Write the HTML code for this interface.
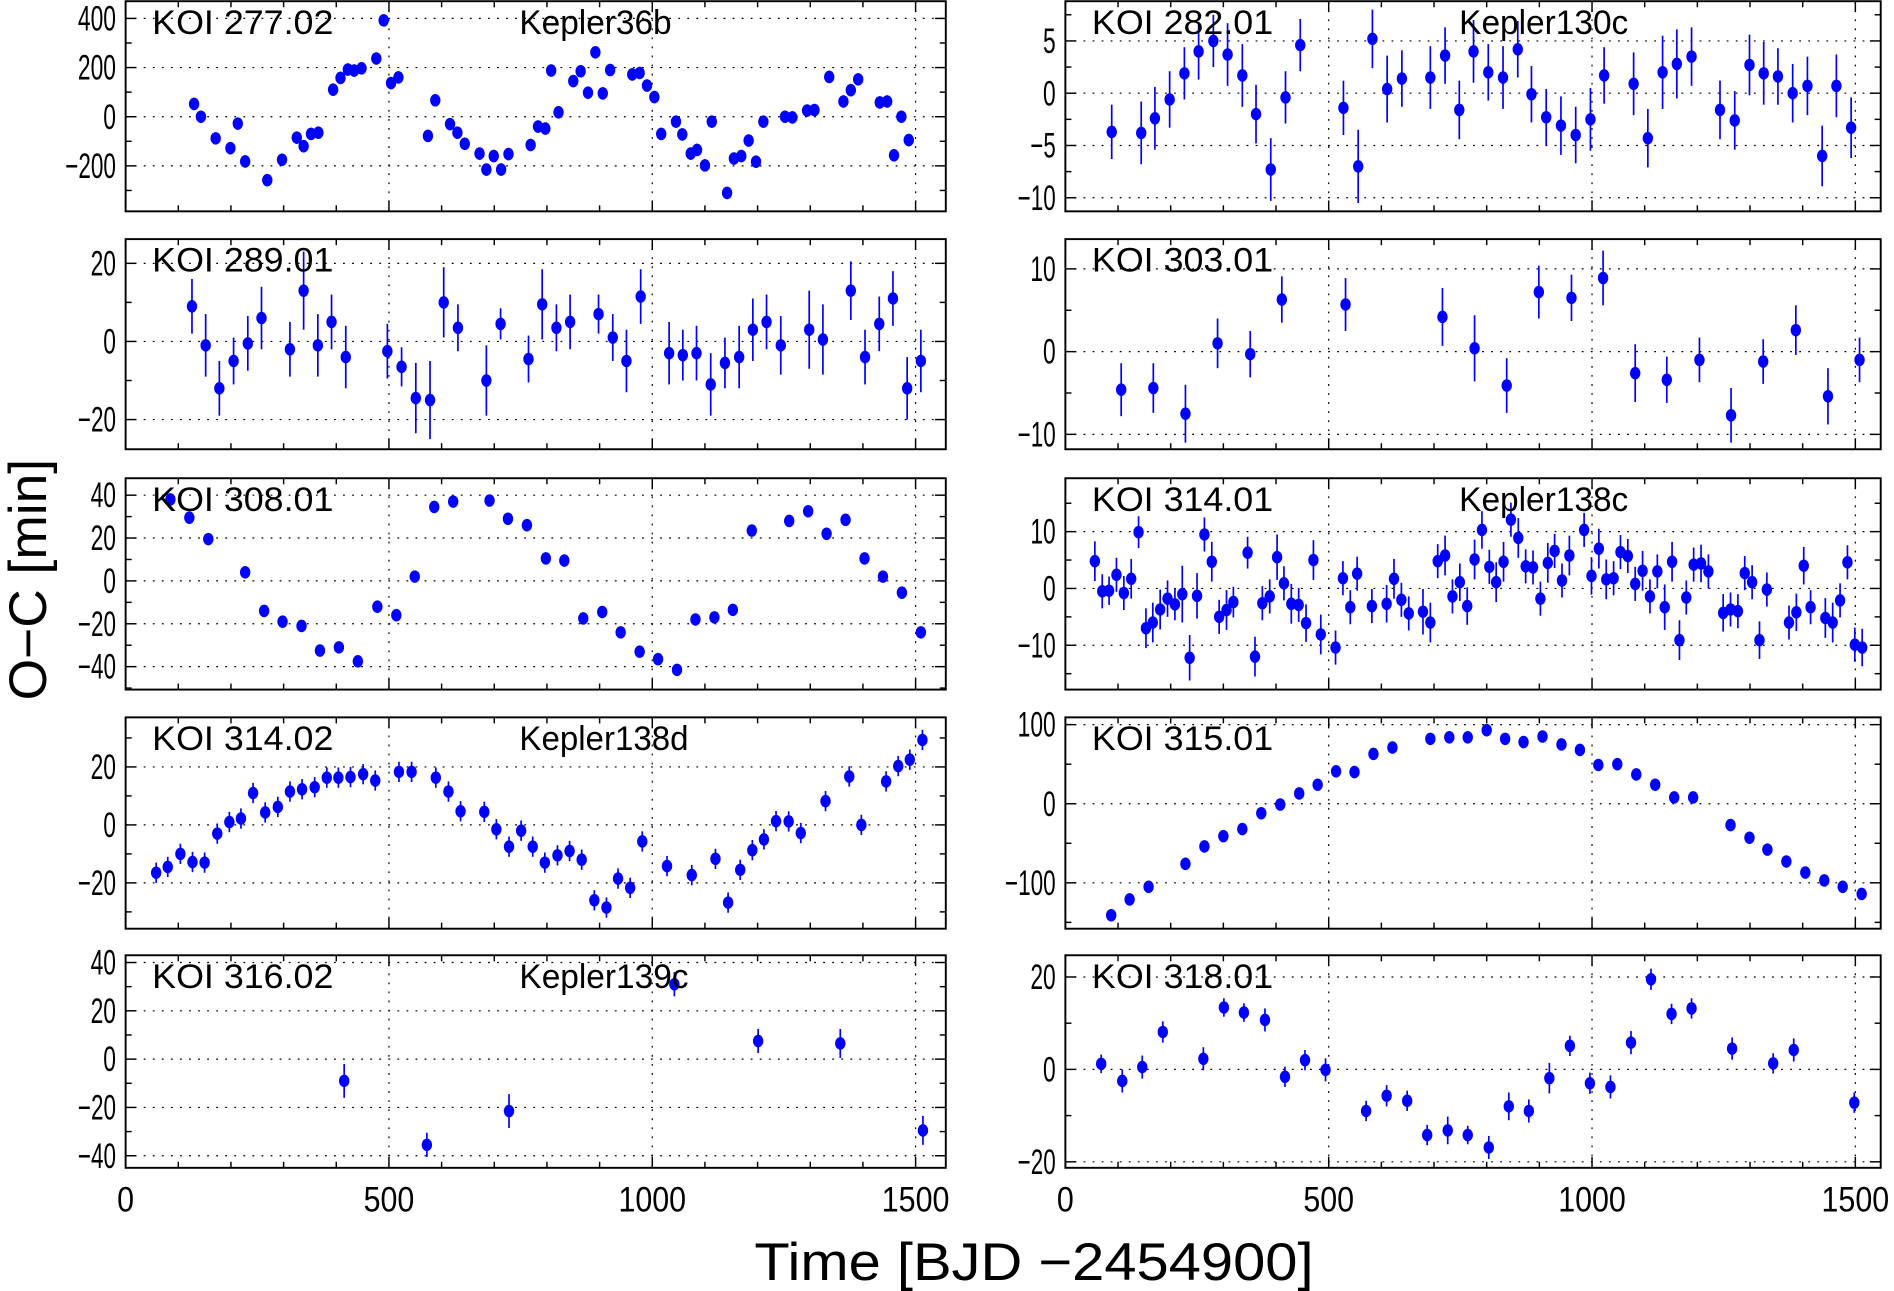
<!DOCTYPE html>
<html><head><meta charset="utf-8"><title>KOI O-C panels</title>
<style>html,body{margin:0;padding:0;background:#fff}svg{display:block}</style></head>
<body>
<svg id="chart" xmlns="http://www.w3.org/2000/svg" width="1894" height="1291" viewBox="0 0 1568 1069" preserveAspectRatio="none" font-family="Liberation Sans, sans-serif">
<text transform="translate(38,480) rotate(-90)" text-anchor="middle" font-size="44" textLength="200" lengthAdjust="spacingAndGlyphs">O−C [min]</text>
<text x="856" y="1060" text-anchor="middle" font-size="44" textLength="463" lengthAdjust="spacingAndGlyphs">Time [BJD −2454900]</text>
</svg>
<script>
const xTicks=[0,500,1000,1500];
const d277=[[130,52],[143,0],[171,-88],[199,-128],[213,-28],[227,-182],[269,-258],[297,-175],[325,-85],[338,-120],[352,-70],[366,-65],[394,110],[408,158],[422,192],[434,188],[448,197],[476,237],[490,392],[504,137],[518,160],[574,-78],[588,67],[616,-30],[630,-65],[644,-110],[672,-150],[685,-215],[699,-160],[713,-215],[727,-152],[769,-115],[783,-40],[797,-48],[808,188],[822,18],[850,145],[864,185],[878,98],[892,262],[906,95],[920,190],[962,172],[976,178],[990,127],[1004,80],[1017,-70],[1045,-20],[1057,-72],[1073,-150],[1085,-135],[1100,-198],[1113,-20],[1142,-310],[1155,-170],[1169,-160],[1183,-97],[1197,-183],[1211,-20],[1252,0],[1266,-3],[1294,25],[1308,27],[1336,162],[1363,62],[1377,108],[1391,152],[1432,58],[1446,62],[1459,-157],[1473,0],[1487,-95]];
const d289=[[126,9,7],[152,-1,8],[178,-12,7],[205,-5,6],[232,-0.5,7],[258,6,8],[312,-2,7],[338,13,10],[365,-1,8],[391,5,7],[418,-4,8],[497,-2.5,7],[524,-6.5,5],[551,-14.5,9],[578,-15,10],[604,10,9],[631,3.5,6],[685,-10,9],[712,4.5,4],[765,-4.5,6],[791,9.5,9],[818,3.5,6],[844,5,7],[898,7,5],[925,1,6],[951,-5,8],[978,11.5,7],[1032,-3,8],[1058,-3.5,6.5],[1084,-3,7],[1111,-11,8],[1138,-5.5,6.5],[1165,-4,8],[1191,3,8],[1217,5,7],[1244,-1,7.5],[1298,3,10],[1324,0.5,9],[1377,13,7.5],[1404,-4,7],[1431,4.5,7],[1457,11,7],[1484,-12,8],[1510,-5,8]];
const d308=[[85,38],[121,29.5],[157,19.5],[227,4],[263,-14],[298,-19],[334,-21],[369,-32.5],[405,-31],[441,-37.5],[478,-12],[514,-16],[549,2],[586,34.5],[622,37],[691,37.5],[726,29],[762,26],[798,10.5],[833,9.5],[869,-17.5],[905,-14.5],[940,-24],[976,-33],[1011,-36.5],[1047,-41.5],[1082,-18],[1118,-17],[1153,-13.5],[1189,23.5],[1260,28],[1296,32.5],[1331,22],[1367,28.5],[1403,10.5],[1438,2],[1474,-5.5],[1510,-24]];
const d31402=[[58,-16.5],[80,-14.5],[104,-10],[127,-12.8],[150,-13],[174,-3],[197,1],[219,2.2],[242,11],[265,4.3],[289,6.2],[312,11.5],[335,12.3],[359,13],[382,16.3],[404,16.3],[427,16.5],[451,17.5],[474,15.3],[519,18.3],[543,18.3],[589,16.3],[613,11.5],[636,4.7],[681,4.5],[704,-1.5],[728,-7.5],[751,-2],[773,-7.5],[796,-13],[820,-10.5],[843,-9],[866,-12],[890,-26],[913,-28.5],[935,-18.5],[958,-21.7],[981,-5.7],[1028,-14.2],[1075,-17.3],[1120,-11.7],[1144,-26.8],[1167,-15.5],[1190,-8.7],[1212,-5],[1235,1.3],[1259,1.2],[1282,-2.8],[1329,8.2],[1374,16.7],[1397,0],[1444,15],[1467,20.3],[1489,22.5],[1513,29.3]];
const d316=[[415,-9,7],[572,-35.5,5],[728,-21.5,7],[1042,31,5],[1201,7.5,5],[1357,6.5,6],[1514,-29.5,6]];
const d282=[[88,-3.7,2.6],[144,-3.8,3],[170,-2.4,3],[198,-0.6,2.7],[226,1.9,2.5],[253,4,2.7],[281,5,2.5],[308,3.7,3],[336,1.7,3],[362,-2,2.8],[390,-7.3,3],[418,-0.4,2.5],[446,4.6,2.5],[528,-1.4,2.6],[556,-7,3.5],[583,5.2,2.8],[611,0.4,3.2],[639,1.4,2.7],[693,1.5,3],[721,3.6,2.7],[748,-1.6,2.8],[775,4,3],[803,2,2.7],[831,1.5,3],[859,4.2,2.7],[885,-0.1,2.7],[913,-2.3,2.7],[941,-3.1,2.8],[969,-4,2.7],[997,-2.5,3],[1023,1.7,2.7],[1079,0.9,3],[1106,-4.3,2.8],[1134,2,3.5],[1161,2.8,3.3],[1189,3.5,2.8],[1243,-1.6,2.8],[1271,-2.6,2.8],[1299,2.7,2.9],[1326,1.9,3],[1353,1.6,2.7],[1381,0,2.8],[1409,0.7,2.8],[1437,-6,2.9],[1464,0.7,3],[1492,-3.3,2.9]];
const d303=[[106,-4.6,3.2],[167,-4.4,3],[228,-7.5,3.5],[289,1,3],[351,-0.3,2.8],[411,6.3,2.8],[532,5.7,3.2],[716,4.2,3.5],[777,0.4,4],[838,-4.1,3.3],[899,7.2,3.2],[961,6.5,2.8],[1021,8.9,3.3],[1082,-2.6,3.5],[1142,-3.4,2.8],[1204,-1,2.7],[1264,-7.7,3.3],[1325,-1.2,2.7],[1387,2.6,3],[1448,-5.4,3.4],[1508,-1,2.7]];
const d31401=[[56,4.8,3.5],[70,-0.5,3],[83,-0.4,2.5],[97,2.4,3],[111,-0.8,3],[125,1.7,3.5],[139,9.9,2.8],[153,-7,3.5],[166,-6,3.5],[180,-3.7,3.5],[194,-1.8,3.2],[208,-2.8,2.8],[222,-1,5],[236,-12.2,4],[250,-1.3,4],[264,9.5,3],[278,4.7,3.5],[292,-5,3],[306,-3.8,3.5],[319,-2.4,2.7],[346,6.3,2.8],[360,-12,3.5],[374,-2.6,3],[388,-1.4,3],[402,5.5,4],[415,0.9,3],[429,-2.7,3.5],[443,-2.9,3],[457,-6.1,3.3],[471,5,3.5],[485,-8.1,3.5],[513,-10.4,3],[527,1.8,3],[541,-3.3,3],[554,2.6,3],[582,-3.1,3],[610,-2.7,3.3],[624,1.7,3.5],[638,-2,3],[652,-4.4,3],[679,-4.1,4],[693,-6,3.5],[707,4.8,3],[721,5.8,3.5],[735,-1.4,3],[749,1.1,3.3],[763,-3.1,3.3],[777,5.1,3.5],[791,10.3,3.3],[805,3.8,3],[818,1.1,3.5],[832,4.7,3.5],[846,12.1,3],[860,8.9,3.5],[874,3.9,3],[888,3.7,3],[902,-1.8,3],[916,4.5,3.5],[929,6.6,3],[943,1.4,3],[957,5.8,3.5],[985,10.3,3],[999,2.2,3.3],[1013,7,3.5],[1027,1.6,3.5],[1041,1.8,3],[1054,6.4,3],[1068,5.7,3],[1082,0.8,3],[1096,3.1,3.5],[1110,-1.4,3],[1124,3,3],[1138,-3.3,4],[1152,4.7,3.5],[1166,-9.1,3.5],[1179,-1.6,3],[1193,4.2,3],[1207,4.4,3.3],[1221,3,3],[1249,-4.3,3.3],[1263,-3.7,3],[1277,-4,3],[1290,2.7,3],[1304,1.1,3],[1318,-9.1,3.3],[1332,-0.2,3],[1374,-6,3],[1388,-4.2,3.3],[1402,4,3.3],[1415,-3.3,3],[1443,-5.2,3.5],[1457,-6,3.5],[1471,-2.1,3],[1485,4.6,3],[1499,-9.9,3],[1513,-10.4,3.3]];
const d315=[[87,-141],[122,-121],[158,-105],[228,-76],[264,-54],[300,-41],[336,-32],[372,-12],[408,-1],[444,13],[479,24],[514,41],[549,40],[585,63],[621,71],[693,82],[729,84],[764,84],[800,93],[835,82],[870,78],[906,85],[942,75],[977,68],[1012,49],[1048,50],[1084,37],[1120,24],[1156,8],[1192,8],[1263,-27],[1299,-43],[1333,-58],[1369,-73],[1405,-87],[1441,-97],[1476,-105],[1512,-114]];
const d318=[[68,1.2,2],[108,-2.5,2.5],[146,0.5,2.5],[185,8.1,2.3],[262,2.3,2.5],[301,13.4,2],[339,12.3,2],[379,10.7,2.5],[417,-1.6,2.2],[455,2,2.2],[494,-0.1,2.5],[571,-9,2.2],[610,-5.7,2.3],[649,-6.8,2.2],[687,-14.2,2.2],[726,-13.2,3],[764,-14.2,2],[804,-16.9,2.5],[842,-8,3],[880,-9,2.5],[919,-1.9,3.3],[958,5.1,2.2],[996,-3,2.3],[1035,-3.8,2.5],[1074,5.8,2.5],[1112,19.5,2.3],[1151,12,2.2],[1189,13.2,2.2],[1266,4.5,2.4],[1344,1.3,2.2],[1383,4.2,2.5],[1498,-7.2,2.2]];
const yTicks277=[400,200,0,-200],yTicks289=[20,0,-20],yTicks308=[40,20,0,-20,-40],yTicks31402=[20,0,-20],yTicks316=[40,20,0,-20,-40];
const yTicks282=[5,0,-5,-10],yTicks303=[10,0,-10],yTicks31401=[10,0,-10],yTicks315=[100,0,-100],yTicks318=[20,0,-20];
const panels=[
 {id:'koi-277-02',col:0,row:0,label:'KOI 277.02',name:'Kepler36b',data:d277,defErr:25,yt:yTicks277,minor:100,top:470,bot:-385},
 {id:'koi-289-01',col:0,row:1,label:'KOI 289.01',name:'',data:d289,defErr:7,yt:yTicks289,minor:10,top:26.2,bot:-27.6},
 {id:'koi-308-01',col:0,row:2,label:'KOI 308.01',name:'',data:d308,defErr:2.7,yt:yTicks308,minor:10,top:47.9,bot:-50.7},
 {id:'koi-314-02',col:0,row:3,label:'KOI 314.02',name:'Kepler138d',data:d31402,defErr:3.5,yt:yTicks31402,minor:10,top:37.1,bot:-35.8},
 {id:'koi-316-02',col:0,row:4,label:'KOI 316.02',name:'Kepler139c',data:d316,defErr:5,yt:yTicks316,minor:10,top:43,bot:-45},
 {id:'koi-282-01',col:1,row:0,label:'KOI 282.01',name:'Kepler130c',data:d282,defErr:3,yt:yTicks282,minor:2.5,top:8.8,bot:-11.3},
 {id:'koi-303-01',col:1,row:1,label:'KOI 303.01',name:'',data:d303,defErr:3,yt:yTicks303,minor:5,top:13.6,bot:-11.8},
 {id:'koi-314-01',col:1,row:2,label:'KOI 314.01',name:'Kepler138c',data:d31401,defErr:3,yt:yTicks31401,minor:5,top:19.4,bot:-17.8},
 {id:'koi-315-01',col:1,row:3,label:'KOI 315.01',name:'',data:d315,defErr:2,yt:yTicks315,minor:50,top:109.2,bot:-158},
 {id:'koi-318-01',col:1,row:4,label:'KOI 318.01',name:'',data:d318,defErr:2.3,yt:yTicks318,minor:10,top:24.7,bot:-21.3}];
const NS='http://www.w3.org/2000/svg';
const svg=document.getElementById('chart');
const tops=[1,198,396,594,791],bots=[175,372,571,769,967];
const lefts=[104,882],rights=[783,1557];
function mk(tag,attrs,parent){const e=document.createElementNS(NS,tag);for(const k in attrs)e.setAttribute(k,attrs[k]);parent.appendChild(e);return e;}
panels.forEach(p=>{
 const L=lefts[p.col],R=rights[p.col],T=tops[p.row],B=bots[p.row];
 const xs=t=>L+t*0.436;
 const ys=v=>T+(p.top-v)/(p.top-p.bot)*(B-T);
 const g=mk('g',{},svg);
 
 
 xTicks.forEach(t=>{if(t>0){const l=mk('line',{x1:xs(t),x2:xs(t),y1:T,y2:B,stroke:'#000','stroke-width':1,'stroke-dasharray':'1.5 6'},g);}});
 p.yt.forEach(v=>{const l=mk('line',{x1:L,x2:R,y1:ys(v),y2:ys(v),stroke:'#000','stroke-width':1,'stroke-dasharray':'1.5 6'},g);});
 for(let t=0;t<=1550;t+=100){const len=(t%500===0)?9:5;
  mk('line',{x1:xs(t),x2:xs(t),y1:B,y2:B-len,stroke:'#000','stroke-width':1.2},g);
  mk('line',{x1:xs(t),x2:xs(t),y1:T,y2:T+len,stroke:'#000','stroke-width':1.2},g);}
 const step=p.minor;let v0=Math.ceil(p.bot/step)*step;
 for(let v=v0;v<=p.top;v+=step){const major=p.yt.some(m=>Math.abs(m-v)<1e-6);const len=major?9:5;
  mk('line',{x1:L,x2:L+len,y1:ys(v),y2:ys(v),stroke:'#000','stroke-width':1.2},g);
  mk('line',{x1:R,x2:R-len,y1:ys(v),y2:ys(v),stroke:'#000','stroke-width':1.2},g);}
 p.yt.forEach(v=>{const s=(v<0?'−':'')+Math.abs(v);
  const tx=mk('text',{x:L-8,y:ys(v)+10,'text-anchor':'end','font-size':29,textLength:s.length*10.5,lengthAdjust:'spacingAndGlyphs'},g);tx.textContent=s;
  });
 if(p.row===4){xTicks.forEach(t=>{const s=String(t);
  const tx=mk('text',{x:xs(t),y:1003,'text-anchor':'middle','font-size':29,textLength:s.length*14,lengthAdjust:'spacingAndGlyphs'},g);tx.textContent=s;
  });}
 p.data.forEach(d=>{const e=d[2]!==undefined?d[2]:p.defErr;const cx=xs(d[0]),cy=ys(d[1]);
  const eb=mk('line',{x1:cx,x2:cx,y1:ys(d[1]+e),y2:ys(d[1]-e),stroke:'#0000ff','stroke-width':1.4},g);
  
  const pt=mk('ellipse',{cx:cx,cy:cy,rx:4.3,ry:5.2,fill:'#0000ff'},g);
  });
 const fr=mk('rect',{x:L,y:T,width:R-L,height:B-T,fill:'none',stroke:'#000','stroke-width':1.6},g);
 
 const lb=mk('text',{x:L+22,y:T+27,'font-size':28,textLength:150,lengthAdjust:'spacingAndGlyphs'},g);lb.textContent=p.label;
 
 if(p.name){const nm=mk('text',{x:L+326,y:T+27,'font-size':28,textLength:p.name.length*14,lengthAdjust:'spacingAndGlyphs'},g);nm.textContent=p.name;
  }
});
</script>
</body></html>
